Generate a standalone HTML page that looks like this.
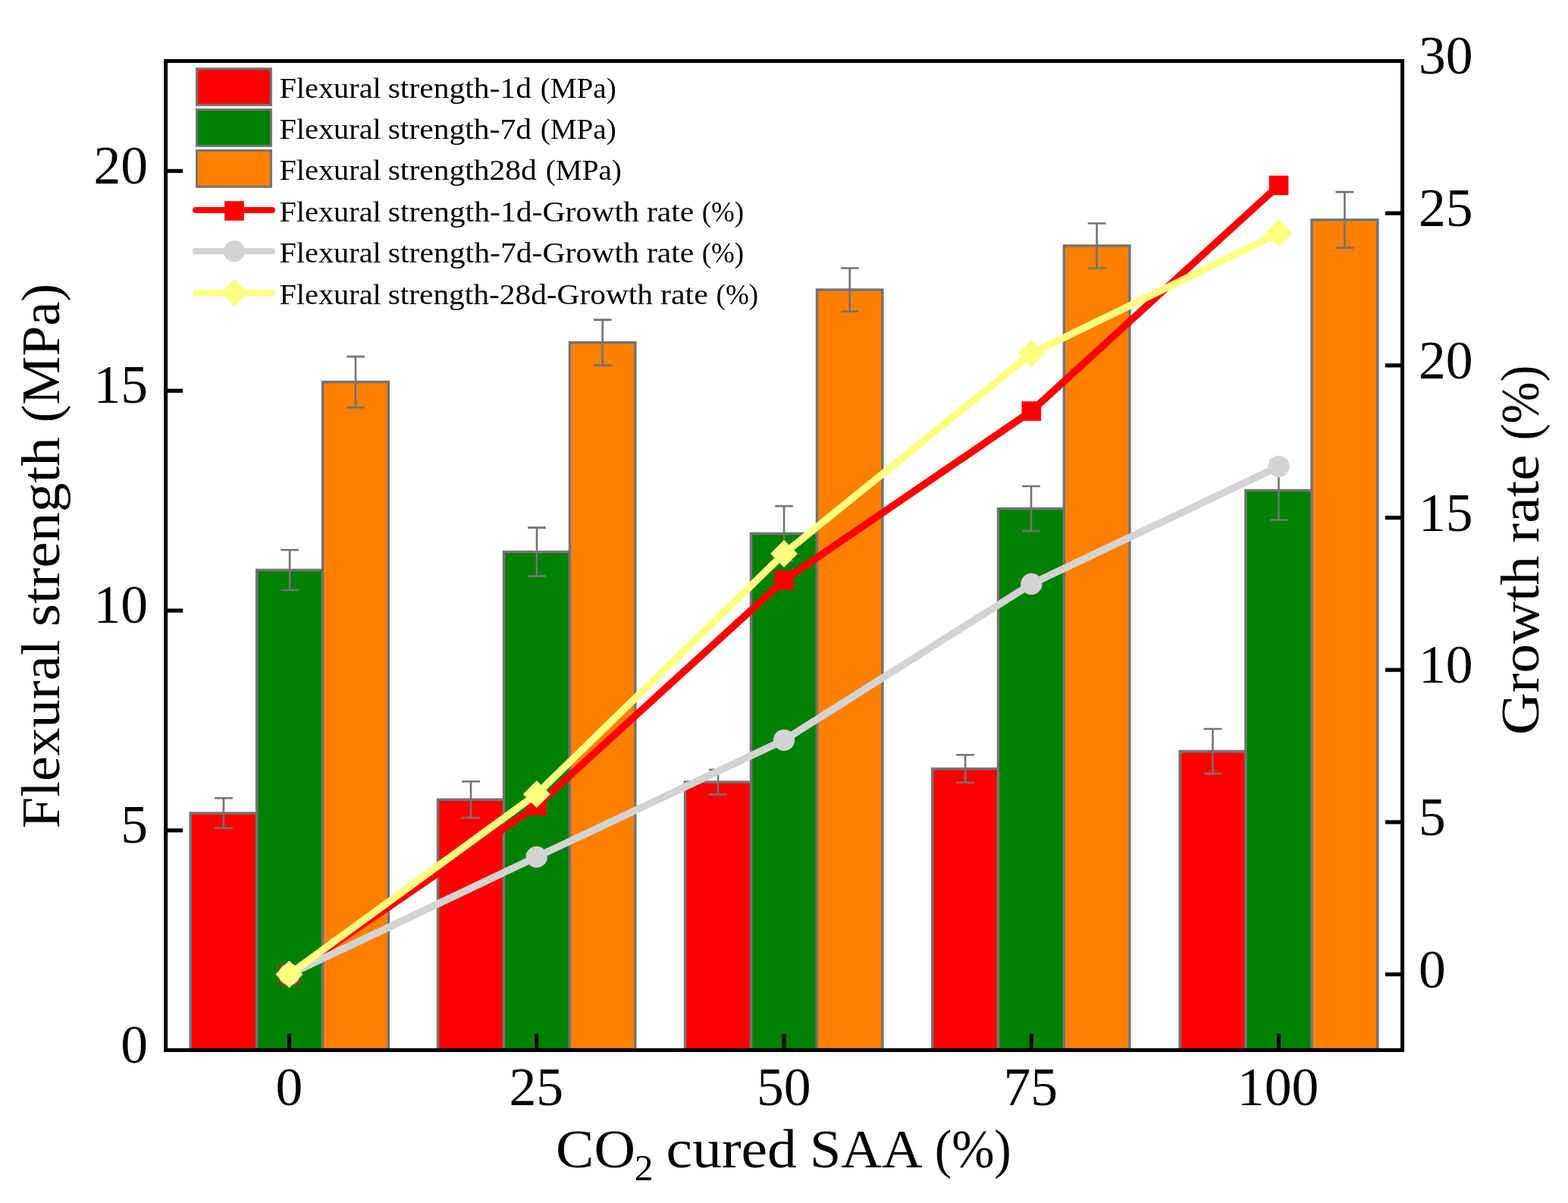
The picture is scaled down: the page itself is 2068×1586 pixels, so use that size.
<!DOCTYPE html>
<html lang="en">
<head>
<meta charset="utf-8">
<title>Flexural strength and growth rate vs CO2 cured SAA</title>
<style>
html,body{margin:0;padding:0;background:#fff;}
body{width:2068px;height:1586px;overflow:hidden;}
svg{display:block;}
text{font-family:"Liberation Serif","DejaVu Serif",serif;fill:#000;}
</style>
</head>
<body>
<svg width="2068" height="1586" viewBox="0 0 2068 1586">
<rect width="2068" height="1586" fill="#ffffff"/>
<g stroke="#737373" stroke-width="3.5">
<rect x="251.20" y="1072.00" width="87.45" height="312.45" fill="#ff0000"/>
<rect x="338.65" y="751.50" width="86.90" height="632.95" fill="#008000"/>
<rect x="425.55" y="503.60" width="86.90" height="880.85" fill="#ff8000"/>
<rect x="577.50" y="1054.10" width="87.00" height="330.35" fill="#ff0000"/>
<rect x="664.50" y="727.60" width="87.00" height="656.85" fill="#008000"/>
<rect x="751.50" y="451.60" width="86.40" height="932.85" fill="#ff8000"/>
<rect x="903.55" y="1031.00" width="87.00" height="353.45" fill="#ff0000"/>
<rect x="990.55" y="703.40" width="86.95" height="681.05" fill="#008000"/>
<rect x="1077.50" y="382.00" width="86.40" height="1002.45" fill="#ff8000"/>
<rect x="1229.65" y="1013.50" width="86.90" height="370.95" fill="#ff0000"/>
<rect x="1316.55" y="670.50" width="86.85" height="713.95" fill="#008000"/>
<rect x="1403.40" y="324.00" width="86.45" height="1060.45" fill="#ff8000"/>
<rect x="1556.10" y="990.50" width="86.80" height="393.95" fill="#ff0000"/>
<rect x="1642.90" y="646.50" width="87.10" height="737.95" fill="#008000"/>
<rect x="1730.00" y="289.90" width="86.90" height="1094.55" fill="#ff8000"/>
</g>
<g stroke="#737373" stroke-width="2.6" fill="none">
<path d="M294.92 1052.25V1091.75M283.02 1052.25H306.82M283.02 1091.75H306.82"/>
<path d="M382.10 725.00V778.00M370.20 725.00H394.00M370.20 778.00H394.00"/>
<path d="M469.00 470.10V537.10M457.10 470.10H480.90M457.10 537.10H480.90"/>
<path d="M621.00 1030.20V1078.00M609.10 1030.20H632.90M609.10 1078.00H632.90"/>
<path d="M708.00 695.60V759.60M696.10 695.60H719.90M696.10 759.60H719.90"/>
<path d="M794.70 421.60V481.60M782.80 421.60H806.60M782.80 481.60H806.60"/>
<path d="M947.05 1014.80V1047.20M935.15 1014.80H958.95M935.15 1047.20H958.95"/>
<path d="M1034.03 667.20V739.60M1022.13 667.20H1045.93M1022.13 739.60H1045.93"/>
<path d="M1120.70 353.50V410.50M1108.80 353.50H1132.60M1108.80 410.50H1132.60"/>
<path d="M1273.10 995.25V1031.75M1261.20 995.25H1285.00M1261.20 1031.75H1285.00"/>
<path d="M1359.97 641.00V700.00M1348.07 641.00H1371.88M1348.07 700.00H1371.88"/>
<path d="M1446.62 294.50V353.50M1434.72 294.50H1458.53M1434.72 353.50H1458.53"/>
<path d="M1599.50 961.00V1020.00M1587.60 961.00H1611.40M1587.60 1020.00H1611.40"/>
<path d="M1686.45 607.50V685.50M1674.55 607.50H1698.35M1674.55 685.50H1698.35"/>
<path d="M1773.45 253.15V326.65M1761.55 253.15H1785.35M1761.55 326.65H1785.35"/>
</g>
<polyline points="381.45,1285.00 707.72,1062.40 1033.99,764.90 1360.26,542.00 1686.53,244.40" fill="none" stroke="#ff0000" stroke-width="9.5" stroke-linejoin="round" stroke-linecap="round"/>
<rect x="368.65" y="1272.20" width="25.6" height="25.6" fill="#ff0000"/>
<rect x="694.92" y="1049.60" width="25.6" height="25.6" fill="#ff0000"/>
<rect x="1021.19" y="752.10" width="25.6" height="25.6" fill="#ff0000"/>
<rect x="1347.46" y="529.20" width="25.6" height="25.6" fill="#ff0000"/>
<rect x="1673.73" y="231.60" width="25.6" height="25.6" fill="#ff0000"/>
<polyline points="381.45,1284.70 707.72,1129.80 1033.99,975.80 1360.26,769.90 1686.53,615.00" fill="none" stroke="#d3d3d3" stroke-width="9.5" stroke-linejoin="round" stroke-linecap="round"/>
<circle cx="381.45" cy="1284.70" r="14.15" fill="#d3d3d3"/>
<circle cx="707.72" cy="1129.80" r="14.15" fill="#d3d3d3"/>
<circle cx="1033.99" cy="975.80" r="14.15" fill="#d3d3d3"/>
<circle cx="1360.26" cy="769.90" r="14.15" fill="#d3d3d3"/>
<circle cx="1686.53" cy="615.00" r="14.15" fill="#d3d3d3"/>
<polyline points="381.45,1284.50 707.72,1047.00 1033.99,729.90 1360.26,466.10 1686.53,307.50" fill="none" stroke="#ffff80" stroke-width="9.5" stroke-linejoin="round" stroke-linecap="round"/>
<path d="M363.45 1284.50L381.45 1266.50L399.45 1284.50L381.45 1302.50Z" fill="#ffff80"/>
<path d="M689.72 1047.00L707.72 1029.00L725.72 1047.00L707.72 1065.00Z" fill="#ffff80"/>
<path d="M1015.99 729.90L1033.99 711.90L1051.99 729.90L1033.99 747.90Z" fill="#ffff80"/>
<path d="M1342.26 466.10L1360.26 448.10L1378.26 466.10L1360.26 484.10Z" fill="#ffff80"/>
<path d="M1668.53 307.50L1686.53 289.50L1704.53 307.50L1686.53 325.50Z" fill="#ffff80"/>
<rect x="218.6" y="80.4" width="1631.00" height="1304.05" fill="none" stroke="#000" stroke-width="5.0"/>
<g stroke="#000" stroke-width="5.2">
<line x1="218.6" y1="1094.80" x2="241.2" y2="1094.80"/>
<line x1="218.6" y1="805.00" x2="241.2" y2="805.00"/>
<line x1="218.6" y1="515.20" x2="241.2" y2="515.20"/>
<line x1="218.6" y1="225.40" x2="241.2" y2="225.40"/>
<line x1="1849.6" y1="1284.60" x2="1826.9" y2="1284.60"/>
<line x1="1849.6" y1="1083.90" x2="1826.9" y2="1083.90"/>
<line x1="1849.6" y1="883.20" x2="1826.9" y2="883.20"/>
<line x1="1849.6" y1="682.50" x2="1826.9" y2="682.50"/>
<line x1="1849.6" y1="481.80" x2="1826.9" y2="481.80"/>
<line x1="1849.6" y1="281.10" x2="1826.9" y2="281.10"/>
</g>
<g stroke="#000" stroke-width="5">
<line x1="381.45" y1="1384.45" x2="381.45" y2="1362.8"/>
<line x1="707.72" y1="1384.45" x2="707.72" y2="1362.8"/>
<line x1="1033.99" y1="1384.45" x2="1033.99" y2="1362.8"/>
<line x1="1360.26" y1="1384.45" x2="1360.26" y2="1362.8"/>
<line x1="1686.53" y1="1384.45" x2="1686.53" y2="1362.8"/>
</g>
<g font-size="71.6">
<text x="195.0" y="1400.80" text-anchor="end">0</text>
<text x="195.0" y="1111.00" text-anchor="end">5</text>
<text x="195.0" y="821.20" text-anchor="end">10</text>
<text x="195.0" y="531.40" text-anchor="end">15</text>
<text x="195.0" y="241.60" text-anchor="end">20</text>
<text x="1870.9" y="1301.60">0</text>
<text x="1870.9" y="1100.90">5</text>
<text x="1870.9" y="900.20">10</text>
<text x="1870.9" y="699.50">15</text>
<text x="1870.9" y="498.80">20</text>
<text x="1870.9" y="298.10">25</text>
<text x="1870.9" y="97.40">30</text>
<text x="381.45" y="1457" text-anchor="middle">0</text>
<text x="707.32" y="1457" text-anchor="middle">25</text>
<text x="1033.69" y="1457" text-anchor="middle">50</text>
<text x="1359.26" y="1457" text-anchor="middle">75</text>
<text x="1685.53" y="1457" text-anchor="middle">100</text>
</g>
<text font-size="72.0" transform="translate(77.9 0) rotate(-90)"><tspan x="-1092.17" textLength="248.68" lengthAdjust="spacingAndGlyphs">Flexural</tspan> <tspan x="-826.33" textLength="250.23" lengthAdjust="spacingAndGlyphs">strength</tspan> <tspan x="-557.34" textLength="183.54" lengthAdjust="spacingAndGlyphs">(MPa)</tspan></text>
<text font-size="72.0" transform="translate(2028.9 0) rotate(-90)"><tspan x="-969.12" textLength="236.32" lengthAdjust="spacingAndGlyphs">Growth</tspan> <tspan x="-715.51" textLength="116.11" lengthAdjust="spacingAndGlyphs">rate</tspan> <tspan x="-580.56" textLength="99.05" lengthAdjust="spacingAndGlyphs">(%)</tspan></text>
<text font-size="72.0" y="1539.2"><tspan x="733.14" textLength="104.77" lengthAdjust="spacingAndGlyphs">CO</tspan><tspan x="836.85" textLength="24.77" lengthAdjust="spacingAndGlyphs" font-size="47.6" dy="17">2</tspan> <tspan x="878.47" textLength="172.43" lengthAdjust="spacingAndGlyphs" dy="-17">cured</tspan> <tspan x="1068.09" textLength="144.36" lengthAdjust="spacingAndGlyphs">SAA</tspan> <tspan x="1232.69" textLength="101.04" lengthAdjust="spacingAndGlyphs">(%)</tspan></text>
<rect x="259.5" y="90.60" width="97.9" height="47.8" fill="#ff0000" stroke="#737373" stroke-width="3"/>
<rect x="259.5" y="144.50" width="97.9" height="47.8" fill="#008000" stroke="#737373" stroke-width="3"/>
<rect x="259.5" y="198.40" width="97.9" height="47.8" fill="#ff8000" stroke="#737373" stroke-width="3"/>
<line x1="258" y1="277.1" x2="359" y2="277.1" stroke="#ff0000" stroke-width="8.0" stroke-linecap="round"/>
<rect x="296.20" y="265.20" width="25.6" height="25.6" fill="#ff0000"/>
<line x1="258" y1="331.3" x2="359" y2="331.3" stroke="#d3d3d3" stroke-width="8.0" stroke-linecap="round"/>
<circle cx="309.00" cy="331.30" r="14.15" fill="#d3d3d3"/>
<line x1="258" y1="385.9" x2="359" y2="385.9" stroke="#ffff80" stroke-width="8.0" stroke-linecap="round"/>
<path d="M291.00 385.90L309.00 367.90L327.00 385.90L309.00 403.90Z" fill="#ffff80"/>
<g font-size="38.5">
<text y="128.70"><tspan x="368.42" textLength="134.37" lengthAdjust="spacingAndGlyphs">Flexural</tspan> <tspan x="511.70" textLength="189.30" lengthAdjust="spacingAndGlyphs">strength-1d</tspan> <tspan x="712.68" textLength="100.14" lengthAdjust="spacingAndGlyphs">(MPa)</tspan></text>
<text y="182.80"><tspan x="368.42" textLength="134.37" lengthAdjust="spacingAndGlyphs">Flexural</tspan> <tspan x="511.70" textLength="189.30" lengthAdjust="spacingAndGlyphs">strength-7d</tspan> <tspan x="712.68" textLength="100.14" lengthAdjust="spacingAndGlyphs">(MPa)</tspan></text>
<text y="236.90"><tspan x="368.42" textLength="134.37" lengthAdjust="spacingAndGlyphs">Flexural</tspan> <tspan x="511.70" textLength="196.20" lengthAdjust="spacingAndGlyphs">strength28d</tspan> <tspan x="719.78" textLength="100.14" lengthAdjust="spacingAndGlyphs">(MPa)</tspan></text>
<text y="291.60"><tspan x="368.42" textLength="134.37" lengthAdjust="spacingAndGlyphs">Flexural</tspan> <tspan x="511.70" textLength="331.20" lengthAdjust="spacingAndGlyphs">strength-1d-Growth</tspan> <tspan x="852.95" textLength="62.36" lengthAdjust="spacingAndGlyphs">rate</tspan> <tspan x="925.65" textLength="55.39" lengthAdjust="spacingAndGlyphs">(%)</tspan></text>
<text y="345.80"><tspan x="368.42" textLength="134.37" lengthAdjust="spacingAndGlyphs">Flexural</tspan> <tspan x="511.70" textLength="331.20" lengthAdjust="spacingAndGlyphs">strength-7d-Growth</tspan> <tspan x="852.95" textLength="62.36" lengthAdjust="spacingAndGlyphs">rate</tspan> <tspan x="925.65" textLength="55.39" lengthAdjust="spacingAndGlyphs">(%)</tspan></text>
<text y="400.50"><tspan x="368.42" textLength="134.37" lengthAdjust="spacingAndGlyphs">Flexural</tspan> <tspan x="511.71" textLength="349.29" lengthAdjust="spacingAndGlyphs">strength-28d-Growth</tspan> <tspan x="871.04" textLength="62.88" lengthAdjust="spacingAndGlyphs">rate</tspan> <tspan x="944.54" textLength="55.60" lengthAdjust="spacingAndGlyphs">(%)</tspan></text>
</g>
</svg>
</body>
</html>
